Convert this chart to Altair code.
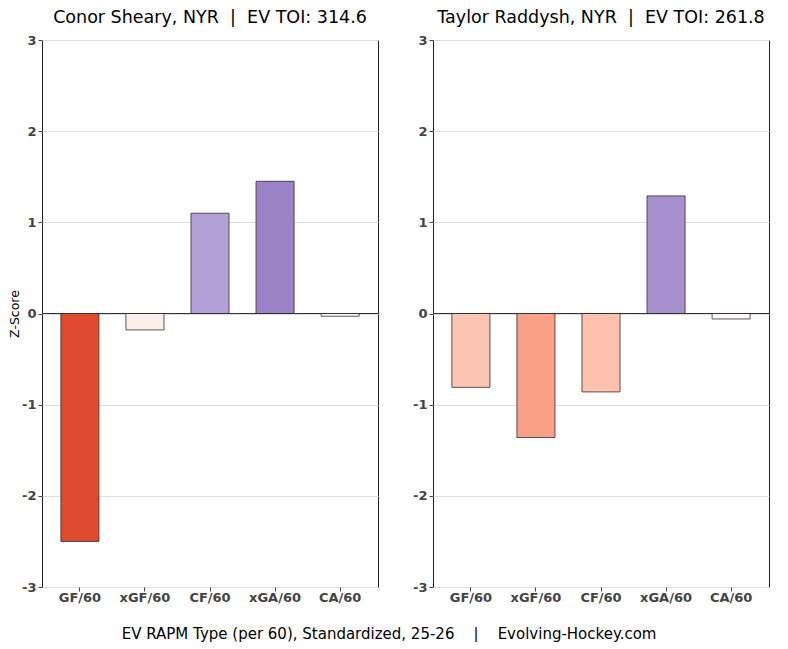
import altair as alt
import pandas as pd

categories = ["GF/60", "xGF/60", "CF/60", "xGA/60", "CA/60"]
sheary_values = [-2.50, -0.18, 1.10, 1.45, -0.03]
raddysh_values = [-0.81, -1.36, -0.86, 1.29, -0.06]
NB = "\u00a0"
panel_titles = [
    "Conor Sheary, NYR" + NB * 2 + "|" + NB * 2 + "EV TOI: 314.6",
    "Taylor Raddysh, NYR" + NB * 2 + "|" + NB * 2 + "EV TOI: 261.8",
]
bottom_title = "EV RAPM Type (per 60), Standardized, 25-26" + NB * 4 + "|" + NB * 4 + "Evolving-Hockey.com"
y_ticks = [-3, -2, -1, 0, 1, 2, 3]

color_domain = [-2.5, -1.37, -0.84, -0.18, 0, 1.1, 1.45]
color_range = ["#e04b2f", "#f9a085", "#fec2b0", "#fdeee9", "#ffffff", "#b3a0d6", "#9b83c8"]

FONT = "DejaVu Sans"


def panel(values, title, show_ytitle):
    df = pd.DataFrame({"metric": categories, "value": values})
    base = alt.Chart(df)
    bars = base.mark_bar(stroke="#3a2a2a", strokeWidth=0.8).encode(
        x=alt.X(
            "metric:N",
            sort=categories,
            scale=alt.Scale(paddingInner=0.415, paddingOuter=0.29),
            axis=alt.Axis(
                title=None, labelAngle=0, labelFontWeight="bold", labelColor="#444444",
                labelFontSize=13, labelFont=FONT, tickSize=4, tickColor="#444444",
                domain=False, labelPadding=0,
            ),
        ),
        y=alt.Y(
            "value:Q",
            scale=alt.Scale(domain=[-3, 3], nice=False, zero=True),
            axis=alt.Axis(
                title="Z-Score" if show_ytitle else None,
                titleFont=FONT, titleFontSize=12.5, titleFontWeight="normal", titleColor="black",
                values=y_ticks, labelExpr="'' + datum.value", labelFontWeight="bold",
                labelColor="#444444", labelFontSize=13, labelFont=FONT, tickSize=4,
                tickColor="#444444", labelPadding=2,
                domain=False, grid=True, gridColor="#dddddd", gridWidth=1, titlePadding=0,
            ),
        ),
        color=alt.Color(
            "value:Q",
            scale=alt.Scale(domain=color_domain, range=color_range, interpolate="rgb"),
            legend=None,
        ),
    )
    zero = base.mark_rule(color="#333333", strokeWidth=1.2).encode(y=alt.datum(0))
    return alt.layer(bars, zero).properties(
        width=336,
        height=547,
        view=alt.ViewBackground(stroke="#222222", strokeWidth=1),
        title=alt.TitleParams(
            title, font=FONT, fontSize=17.5, fontWeight="normal", color="black", offset=8
        ),
    )


left = panel(sheary_values, panel_titles[0], True)
right = panel(raddysh_values, panel_titles[1], False)

chart = (
    alt.hconcat(left, right, spacing=32)
    .properties(
        title=alt.TitleParams(
            bottom_title, orient="bottom", anchor="middle", font=FONT, fontSize=15,
            fontWeight="normal", color="black", offset=22,
        )
    )
    .configure_view(stroke="#222222", strokeWidth=1)
    .configure(font=FONT, background="white", padding=0)
)

chart.save("out.html", embed_options={"renderer": "svg", "actions": False})
